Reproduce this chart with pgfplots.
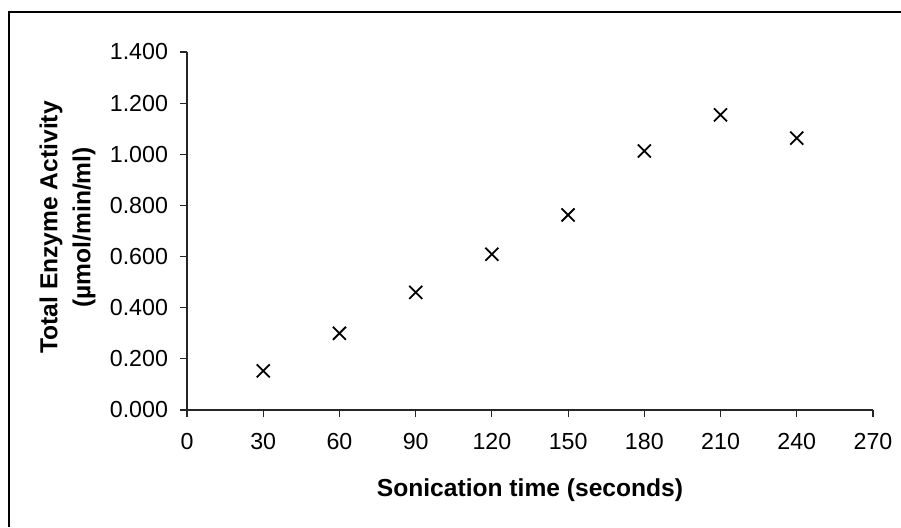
\documentclass[border=0pt]{standalone}
\usepackage{fontspec}
\setmainfont{Liberation Sans}
\usepackage{pgfplots}
\pgfplotsset{compat=1.18}

\begin{document}
\begin{tikzpicture}[x=0.5pt,y=0.5pt]
\useasboundingbox (0,0) rectangle (901,527);
% chart frame (cropped at right and bottom)
\draw[line width=0.7pt] (9,0) -- (9,515) -- (901,515);
\begin{axis}[
at={(93.5pt,58.5pt)},anchor=south west,
scale only axis,width=343pt,height=179pt,
xmin=0,xmax=270,ymin=0,ymax=1.4,
xtick={0,30,...,270},
ytick={0,0.2,...,1.4},
axis x line*=bottom,axis y line*=left,
axis line style={-,line width=0.6pt,black!85},
tick align=outside,
major tick length=3.5pt,
tick style={line width=0.6pt,black!85},
/pgf/number format/assume math mode=true,
ticklabel style={font=\fontsize{11.6}{13}\selectfont},
xticklabel style={yshift=-4.5pt},
yticklabel style={xshift=-2.5pt,/pgf/number format/fixed,/pgf/number format/zerofill,/pgf/number format/precision=3},
xlabel={Sonication time (seconds)},
ylabel={Total Enzyme Activity\\(µmol/min/ml)},
label style={font=\bfseries\fontsize{12.3}{16.5}\selectfont},
xlabel style={at={(axis description cs:0.5,-0.223)},anchor=center},
ylabel style={at={(axis description cs:-0.174,0.51)},anchor=center,align=center,rotate=0},
clip=false
]
\addplot[only marks,mark=x,mark size=4.6pt,mark options={line width=0.9pt},black] coordinates {
(30,0.153)
(60,0.300)
(90,0.460)
(120,0.609)
(150,0.763)
(180,1.013)
(210,1.154)
(240,1.063)
};
\end{axis}
\end{tikzpicture}
\end{document}
